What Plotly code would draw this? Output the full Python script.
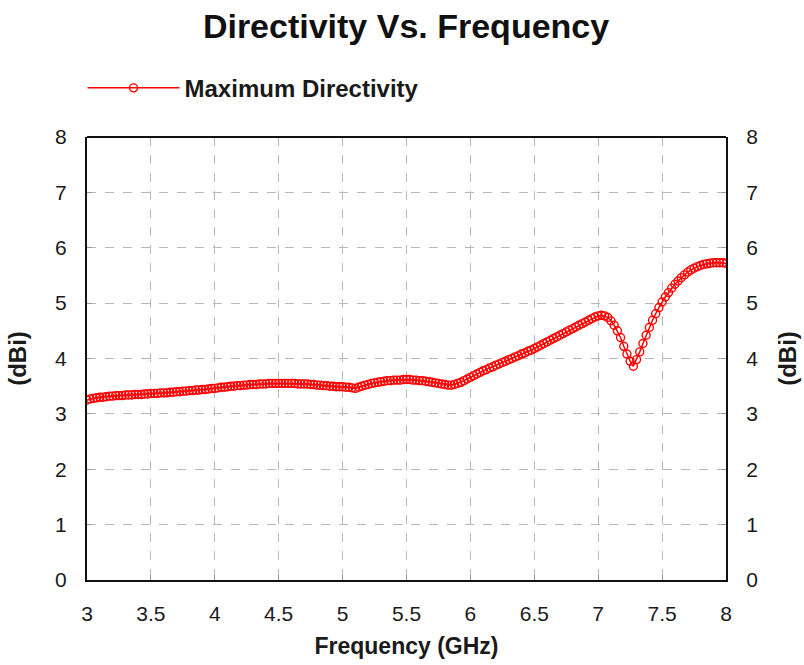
import plotly.graph_objects as go

freq_ghz = [round(3 + 0.025 * i, 3) for i in range(201)]
directivity_dbi = [
    3.25, 3.27, 3.28, 3.29, 3.30, 3.30, 3.31, 3.32, 3.32, 3.33,
    3.33, 3.33, 3.34, 3.34, 3.34, 3.35, 3.35, 3.35, 3.36, 3.36,
    3.37, 3.37, 3.37, 3.38, 3.38, 3.38, 3.39, 3.39, 3.40, 3.40,
    3.41, 3.41, 3.42, 3.42, 3.43, 3.43, 3.44, 3.44, 3.45, 3.46,
    3.46, 3.47, 3.48, 3.48, 3.49, 3.50, 3.50, 3.51, 3.51, 3.52,
    3.52, 3.53, 3.53, 3.53, 3.54, 3.54, 3.54, 3.55, 3.55, 3.55,
    3.55, 3.55, 3.55, 3.55, 3.55, 3.55, 3.54, 3.54, 3.54, 3.54,
    3.53, 3.53, 3.52, 3.52, 3.51, 3.51, 3.50, 3.50, 3.49, 3.49,
    3.49, 3.48, 3.48, 3.47, 3.46, 3.48, 3.50, 3.52, 3.53, 3.55,
    3.56, 3.57, 3.58, 3.59, 3.60, 3.60, 3.61, 3.61, 3.61, 3.62,
    3.62, 3.62, 3.61, 3.61, 3.60, 3.60, 3.59, 3.58, 3.57, 3.56,
    3.55, 3.54, 3.53, 3.52, 3.52, 3.53, 3.55, 3.57, 3.60, 3.63,
    3.66, 3.69, 3.72, 3.75, 3.78, 3.80, 3.83, 3.85, 3.88, 3.90,
    3.93, 3.95, 3.98, 4.00, 4.03, 4.05, 4.08, 4.10, 4.13, 4.15,
    4.18, 4.21, 4.24, 4.27, 4.30, 4.33, 4.36, 4.39, 4.42, 4.45,
    4.48, 4.51, 4.54, 4.57, 4.60, 4.63, 4.66, 4.69, 4.72, 4.75,
    4.77, 4.78, 4.77, 4.74, 4.68, 4.60, 4.50, 4.38, 4.22, 4.08,
    3.95, 3.86, 3.98, 4.12, 4.27, 4.42, 4.56, 4.69, 4.81, 4.92,
    5.02, 5.11, 5.19, 5.27, 5.34, 5.40, 5.46, 5.51, 5.56, 5.60,
    5.63, 5.66, 5.68, 5.70, 5.71, 5.72, 5.73, 5.73, 5.73, 5.73,
    5.72,
]
x_ticks = [3, 3.5, 4, 4.5, 5, 5.5, 6, 6.5, 7, 7.5, 8]
x_tick_text = ["3", "3.5", "4", "4.5", "5", "5.5", "6", "6.5", "7", "7.5", "8"]
y_ticks = [0, 1, 2, 3, 4, 5, 6, 7, 8]

font_fam = "Liberation Sans, Arial, sans-serif"

fig = go.Figure()
fig.add_trace(go.Scatter(
    x=freq_ghz, y=directivity_dbi, mode="lines+markers",
    name="<b>Maximum Directivity</b>",
    line=dict(color="#ff0000", width=1.5),
    marker=dict(symbol="circle-open", size=8, color="#ff0000", line=dict(width=1.4)),
))
# invisible trace to drive the right-hand axis
fig.add_trace(go.Scatter(x=[3, 8], y=[0, 8], yaxis="y2", mode="markers",
                         marker=dict(opacity=0), showlegend=False, hoverinfo="skip"))

axis_common = dict(
    showline=True, linecolor="#111111", linewidth=2, mirror=False,
    showgrid=True, gridcolor="#b8b8b8", griddash="dash", gridwidth=1.3,
    ticks="inside", ticklen=5, tickcolor="#999999",
    tickfont=dict(family=font_fam, size=21, color="#1a1a1a"),
    zeroline=False, automargin=False,
)

fig.update_layout(
    width=804, height=665,
    margin=dict(l=87, r=78, t=137, b=85),
    paper_bgcolor="white", plot_bgcolor="white",
    title=dict(text="<b>Directivity Vs. Frequency</b>", x=0.505, xanchor="center",
               y=0.961, yanchor="middle",
               font=dict(family=font_fam, size=34, color="#111111")),
    legend=dict(x=-0.007, y=1.11, xanchor="left", yanchor="middle",
                font=dict(family=font_fam, size=24, color="#1a1a1a"),
                bgcolor="rgba(0,0,0,0)", itemwidth=92),
    showlegend=True,
    xaxis=dict(range=[3, 8], tickvals=x_ticks, ticktext=x_tick_text,
               ticklabelstandoff=14,
               title=dict(text="<b>Frequency (GHz)</b>", standoff=14,
                          font=dict(family=font_fam, size=23, color="#1a1a1a")),
               **axis_common),
    yaxis=dict(range=[0, 8], tickvals=y_ticks, ticklabelstandoff=14,
               title=dict(text="<b>(dBi)</b>", standoff=22,
                          font=dict(family=font_fam, size=24, color="#1a1a1a")),
               **axis_common),
    yaxis2=dict(range=[0, 8], tickvals=y_ticks, overlaying="y", side="right",
                anchor="x", showgrid=False, showline=True, linecolor="#111111",
                linewidth=2, ticks="inside", ticklen=5, tickcolor="#999999",
                tickfont=dict(family=font_fam, size=21, color="#1a1a1a"),
                zeroline=False, ticklabelstandoff=14, automargin=False,
                title=dict(text="<b>(dBi)</b>", standoff=22,
                           font=dict(family=font_fam, size=24, color="#1a1a1a"))),
)
# top frame line
fig.add_shape(type="line", xref="paper", yref="paper", x0=0, x1=1, y0=1, y1=1,
              line=dict(color="#111111", width=2))

fig.write_html("out.html")
